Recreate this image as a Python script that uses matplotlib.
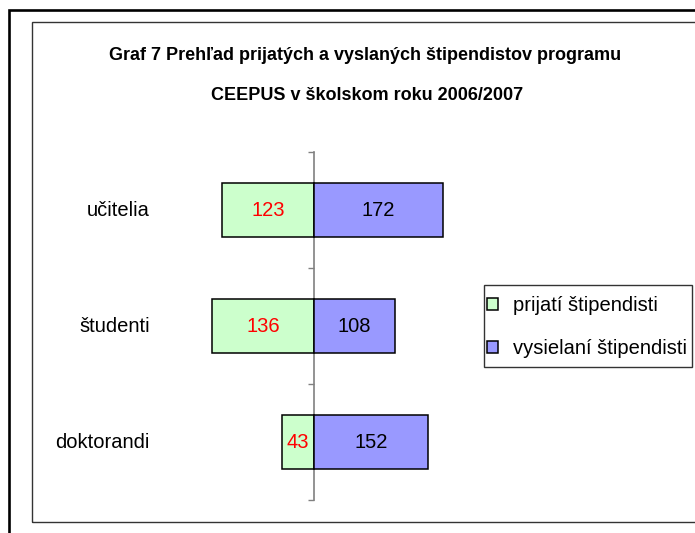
import matplotlib
matplotlib.use("Agg")
import matplotlib.pyplot as plt
from matplotlib.patches import Rectangle, Patch

plt.rcParams['font.family'] = ['Liberation Sans', 'DejaVu Sans']

categories = ["učitelia", "študenti", "doktorandi"]
prijati = [123, 136, 43]
vysielani = [172, 108, 152]
series_names = ["prijatí štipendisti", "vysielaní štipendisti"]
title_lines = ["Graf 7 Prehľad prijatých a vyslaných štipendistov programu",
               "CEEPUS v školskom roku 2006/2007"]

W, H = 695, 533
fig = plt.figure(figsize=(W / 100, H / 100), dpi=100)

def fx(px):
    return px / W

def fy(py):
    return 1 - py / H

# outer and inner frames
fig.add_artist(Rectangle((fx(9), fy(560)), fx(720), fy(10) - fy(560),
                         transform=fig.transFigure, fill=False,
                         edgecolor="black", lw=1.9))
fig.add_artist(Rectangle((fx(32), fy(522)), fx(700), fy(22) - fy(522),
                         transform=fig.transFigure, fill=False,
                         edgecolor="#333333", lw=1.0))

# plot area
ax = fig.add_axes([fx(160), fy(500), fx(465) - fx(160), fy(152) - fy(500)])
ax.set_facecolor("none")
ypos = list(range(len(categories)))
bh = 0.46
ax.barh(ypos, [-v for v in prijati], height=bh, color="#CCFFCC",
        edgecolor="black", lw=1.1, zorder=3)
ax.barh(ypos, vysielani, height=bh, color="#9999FF",
        edgecolor="black", lw=1.1, zorder=3)

for y, v in zip(ypos, prijati):
    ax.text(-v / 2, y, str(v), ha="center", va="center", color="#FF0000",
            fontsize=14.5, zorder=4)
for y, v in zip(ypos, vysielani):
    ax.text(v / 2, y, str(v), ha="center", va="center", color="black",
            fontsize=14.5, zorder=4)

ax.set_xlim(-205.3, 201.3)
ax.set_ylim(len(categories) - 0.5, -0.5)

for s in ["top", "right", "bottom"]:
    ax.spines[s].set_visible(False)
ax.spines["left"].set_position(("data", 0))
ax.spines["left"].set_color("#808080")
ax.spines["left"].set_linewidth(1.2)
ax.set_xticks([])
ax.set_yticks([])
ax.set_yticks([-0.5, 0.5, 1.5, 2.5], minor=True)
ax.tick_params(axis="y", which="minor", direction="out", length=4.3,
               width=1.0, color="#808080", labelleft=False)

for y, c in zip(ypos, categories):
    ax.text(-0.033, y, c, transform=ax.get_yaxis_transform(),
            ha="right", va="center", fontsize=14.5)

# title
fig.text(fx(365), fy(56), title_lines[0], ha="center", va="center",
         fontsize=13, fontweight="bold")
fig.text(fx(367), fy(96), title_lines[1], ha="center", va="center",
         fontsize=13, fontweight="bold")

# legend: frame drawn separately
fig.add_artist(Rectangle((fx(484), fy(367)), fx(692) - fx(484), fy(285) - fy(367),
                         transform=fig.transFigure, fill=False,
                         edgecolor="#333333", lw=1.0))
handles = [Patch(facecolor="#CCFFCC", edgecolor="black", lw=1.1),
           Patch(facecolor="#9999FF", edgecolor="black", lw=1.1)]
leg = fig.legend(handles, series_names, loc="center left",
                 bbox_to_anchor=(fx(487), fy(327)), fontsize=14.5,
                 frameon=False, handlelength=0.55, handleheight=0.55,
                 handletextpad=0.75, borderpad=0, labelspacing=1.2,
                 borderaxespad=0)

fig.savefig("out.png", dpi=100)
